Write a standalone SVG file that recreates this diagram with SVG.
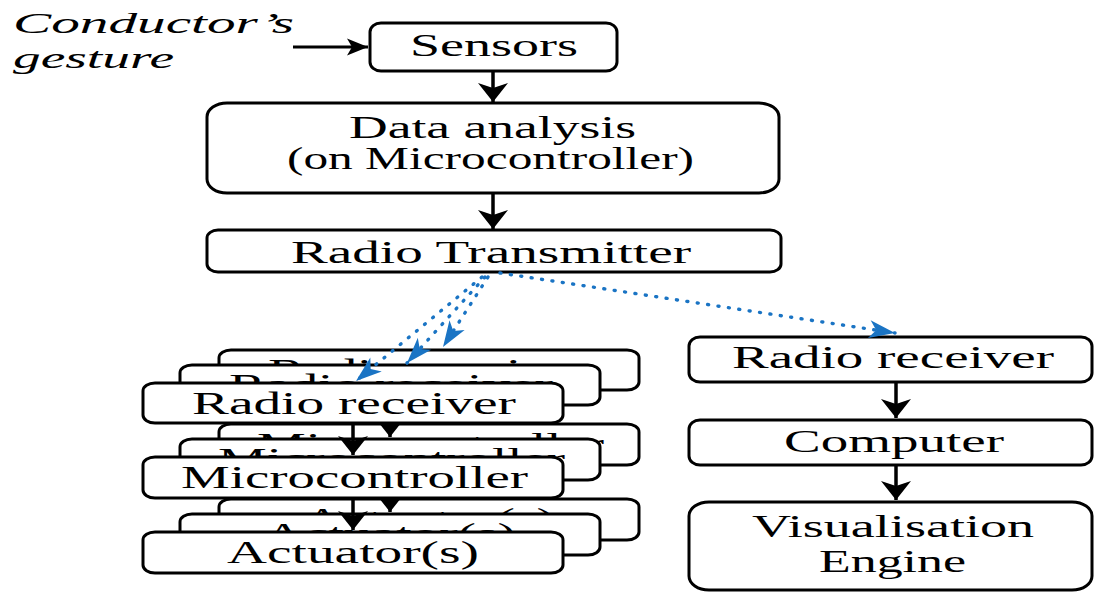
<svg xmlns="http://www.w3.org/2000/svg" width="1094" height="593" viewBox="0 0 1094 593">
  <defs>
    <marker id="ah-v" markerUnits="userSpaceOnUse" orient="auto" markerWidth="40" markerHeight="40" refX="0" refY="0" viewBox="-20 -20 40 40" overflow="visible">
      <path d="M0,0 L-19,-15 L-14,0 L-19,15 Z" fill="#000"/>
    </marker>
    <marker id="ah-h" markerUnits="userSpaceOnUse" orient="auto" markerWidth="40" markerHeight="40" refX="0" refY="0" viewBox="-20 -20 40 40" overflow="visible">
      <path d="M0,0 L-21,-8.5 L-16,0 L-21,8.5 Z" fill="#000"/>
    </marker>
    <marker id="ah-blue" markerUnits="userSpaceOnUse" orient="auto" markerWidth="40" markerHeight="40" refX="0" refY="0" viewBox="-20 -20 40 40" overflow="visible">
      <path d="M0,0 L-26,-9 L-19,0 L-26,9 Z" fill="#1a74c4"/>
    </marker>
  </defs>
  <style>
    .box { fill: #fff; stroke: #000; stroke-width: 3; }
    .lbl { font-family: "Liberation Serif", "Times New Roman", serif; font-size: 32px; fill: #000; }
    .it { font-family: "Liberation Serif", "Times New Roman", serif; font-style: italic; font-size: 30px; fill: #000; }
    .arr { stroke: #000; stroke-width: 3.5; fill: none; marker-end: url(#ah-v); }
    .arrh { stroke: #000; stroke-width: 3; fill: none; marker-end: url(#ah-h); }
    .radio { stroke: #1a74c4; stroke-width: 3.4; fill: none; stroke-dasharray: 1 9.5; stroke-linecap: round; marker-end: url(#ah-blue); }
  </style>
  <rect width="1094" height="593" fill="#fff"/>

  <!-- input label -->
  <g id="gesture">
    <text class="it" x="13" y="33" textLength="281" lengthAdjust="spacingAndGlyphs">Conductor’s</text>
    <text class="it" x="13" y="68" textLength="161" lengthAdjust="spacingAndGlyphs">gesture</text>
  </g>

  <!-- main chain -->
  <g id="sensors">
    <rect class="box" x="370" y="23" width="247" height="48" rx="11" ry="9"/>
    <text class="lbl" x="410" y="56" textLength="168" lengthAdjust="spacingAndGlyphs">Sensors</text>
  </g>
  <g id="data-analysis">
    <rect class="box" x="207" y="103" width="572" height="90" rx="20" ry="14"/>
    <text class="lbl" x="349" y="138" textLength="287" lengthAdjust="spacingAndGlyphs">Data analysis</text>
    <text class="lbl" x="287" y="169" textLength="407" lengthAdjust="spacingAndGlyphs">(on Microcontroller)</text>
  </g>
  <g id="radio-transmitter">
    <rect class="box" x="207" y="230" width="574" height="42" rx="11" ry="8"/>
    <text class="lbl" x="291" y="263" textLength="400" lengthAdjust="spacingAndGlyphs">Radio Transmitter</text>
  </g>

  <g id="connectors-main" class="connectors">
    <line class="arrh" x1="293" y1="47" x2="368" y2="47"/>
    <line class="arr" x1="493" y1="71" x2="493" y2="102"/>
    <line class="arr" x1="493" y1="193" x2="493" y2="229"/>
  </g>

  <!-- right column -->
  <g id="pc-receiver">
    <rect class="box" x="689" y="337" width="403" height="45" rx="11" ry="9"/>
    <text class="lbl" x="732" y="368" textLength="322" lengthAdjust="spacingAndGlyphs">Radio receiver</text>
  </g>
  <g id="computer">
    <rect class="box" x="689" y="420" width="403" height="45" rx="11" ry="9"/>
    <text class="lbl" x="784" y="452" textLength="220" lengthAdjust="spacingAndGlyphs">Computer</text>
  </g>
  <g id="visualisation-engine">
    <rect class="box" x="689" y="502" width="403" height="88" rx="20" ry="14"/>
    <text class="lbl" x="752" y="537" textLength="282" lengthAdjust="spacingAndGlyphs">Visualisation</text>
    <text class="lbl" x="819" y="572" textLength="147" lengthAdjust="spacingAndGlyphs">Engine</text>
  </g>
  <g id="connectors-right" class="connectors">
    <line class="arr" x1="896" y1="382" x2="896" y2="418"/>
    <line class="arr" x1="896" y1="465" x2="896" y2="500"/>
  </g>

  <!-- back stack layer -->
  <g id="stack-back" transform="translate(76,-33)">
    <g id="back-receiver">
      <rect class="box" x="143" y="383" width="420" height="40" rx="12" ry="8"/>
      <text class="lbl" x="192" y="414" textLength="324" lengthAdjust="spacingAndGlyphs">Radio receiver</text>
    </g>
    <g id="back-micro">
      <rect class="box" x="143" y="457" width="420" height="41" rx="12" ry="8"/>
      <text class="lbl" x="181" y="488" textLength="347" lengthAdjust="spacingAndGlyphs">Microcontroller</text>
    </g>
    <g id="back-actuator">
      <rect class="box" x="143" y="532" width="420" height="41" rx="12" ry="8"/>
      <text class="lbl" x="227" y="563" textLength="252" lengthAdjust="spacingAndGlyphs">Actuator(s)</text>
    </g>
    <g id="connectors-back" class="connectors">
      <line class="arr" x1="353" y1="423" x2="353" y2="455"/>
      <line class="arr" x1="353" y1="498" x2="353" y2="530"/>
    </g>
  </g>

  <!-- middle stack layer -->
  <g id="stack-middle" transform="translate(37,-18)">
    <g id="middle-receiver">
      <rect class="box" x="143" y="383" width="420" height="40" rx="12" ry="8"/>
      <text class="lbl" x="192" y="414" textLength="324" lengthAdjust="spacingAndGlyphs">Radio receiver</text>
    </g>
    <g id="middle-micro">
      <rect class="box" x="143" y="457" width="420" height="41" rx="12" ry="8"/>
      <text class="lbl" x="181" y="488" textLength="347" lengthAdjust="spacingAndGlyphs">Microcontroller</text>
    </g>
    <g id="middle-actuator">
      <rect class="box" x="143" y="532" width="420" height="41" rx="12" ry="8"/>
      <text class="lbl" x="227" y="563" textLength="252" lengthAdjust="spacingAndGlyphs">Actuator(s)</text>
    </g>
    <g id="connectors-middle" class="connectors">
      <line class="arr" x1="353" y1="423" x2="353" y2="455"/>
      <line class="arr" x1="353" y1="498" x2="353" y2="530"/>
    </g>
  </g>

  <!-- front stack layer -->
  <g id="stack-front">
    <g id="front-receiver">
      <rect class="box" x="143" y="383" width="420" height="40" rx="12" ry="8"/>
      <text class="lbl" x="192" y="414" textLength="324" lengthAdjust="spacingAndGlyphs">Radio receiver</text>
    </g>
    <g id="front-micro">
      <rect class="box" x="143" y="457" width="420" height="41" rx="12" ry="8"/>
      <text class="lbl" x="181" y="488" textLength="347" lengthAdjust="spacingAndGlyphs">Microcontroller</text>
    </g>
    <g id="front-actuator">
      <rect class="box" x="143" y="532" width="420" height="41" rx="12" ry="8"/>
      <text class="lbl" x="227" y="563" textLength="252" lengthAdjust="spacingAndGlyphs">Actuator(s)</text>
    </g>
    <g id="connectors-front" class="connectors">
      <line class="arr" x1="353" y1="423" x2="353" y2="455"/>
      <line class="arr" x1="353" y1="498" x2="353" y2="530"/>
    </g>
  </g>

  <!-- radio links -->
  <g id="connectors-radio" class="connectors">
    <line class="radio" x1="482" y1="277" x2="356" y2="381"/>
    <line class="radio" x1="485" y1="277" x2="407" y2="363"/>
    <line class="radio" x1="488" y1="277" x2="443" y2="347"/>
    <line class="radio" x1="500" y1="273" x2="895" y2="333"/>
  </g>
</svg>
